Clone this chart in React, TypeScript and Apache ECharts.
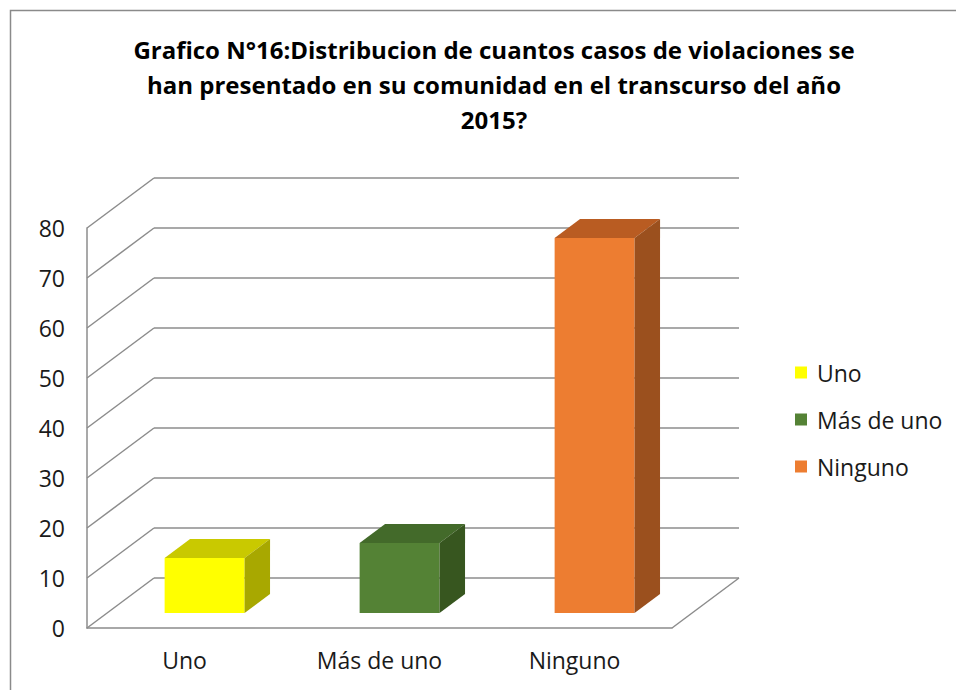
import React, { useEffect, useRef } from "react";
import * as echarts from "echarts";

const categories = ["Uno", "Más de uno", "Ninguno"];
const values = [11, 14, 75];
const yMax = 80;
const yInterval = 10;
const wallTicks = [0, 10, 20, 30, 40, 50, 60, 70, 80];
const titleLines = [
  "Grafico N°16:Distribucion de cuantos casos de violaciones se",
  "han presentado en su comunidad en el transcurso del año",
  "2015?",
];
const frontColors = ["#FFFF00", "#548235", "#ED7D31"];
const topColors = ["#C9C900", "#436A2A", "#B95C22"];
const sideColors = ["#A8A800", "#37561F", "#9B501E"];

const DX = 67;
const DY = -50;
const BAR_FRONT = 0.3;
const BAR_BACK = 0.68;
const BAR_RATIO = 0.41;
const GRID_COLOR = "#8c8c8c";
const FONT = "'Open Sans', sans-serif";

export default function App() {
  const ref = useRef<HTMLDivElement>(null);
  useEffect(() => {
    if (!ref.current) return;
    const chart = echarts.init(ref.current, null, { renderer: "svg" });
    const lineStyle = { stroke: GRID_COLOR, lineWidth: 1.5 };

    const wallSeries: any = {
      type: "custom",
      name: "walls",
      z: 1,
      silent: true,
      data: wallTicks.map((v) => [0, v]),
      renderItem: (params: any, api: any) => {
        const v = api.value(1);
        const bw = api.size([1, 0])[0];
        const pL = api.coord([0, v]);
        const pR = api.coord([categories.length - 1, v]);
        const x0 = pL[0] - bw / 2;
        const x1 = pR[0] + bw / 2;
        const y = pL[1];
        const children: any[] = [
          { type: "line", shape: { x1: x0, y1: y, x2: x0 + DX, y2: y + DY }, style: lineStyle },
          { type: "line", shape: { x1: x0 + DX, y1: y + DY, x2: x1 + DX, y2: y + DY }, style: lineStyle },
        ];
        if (v === 0) {
          children.push({ type: "line", shape: { x1: x1, y1: y, x2: x1 + DX, y2: y + DY }, style: lineStyle });
        }
        return { type: "group", children };
      },
    };

    const barSeries = categories.map((name, idx) => ({
      type: "custom",
      name,
      z: 3,
      itemStyle: { color: frontColors[idx] },
      data: [[idx, values[idx]]],
      renderItem: (params: any, api: any) => {
        const i = api.value(0);
        const v = api.value(1);
        const top = api.coord([i, v]);
        const base = api.coord([i, 0]);
        const bw = api.size([1, 0])[0] * BAR_RATIO;
        const fx = BAR_FRONT * DX;
        const fy = BAR_FRONT * DY;
        const ddx = (BAR_BACK - BAR_FRONT) * DX;
        const ddy = (BAR_BACK - BAR_FRONT) * DY;
        const l = top[0] - bw / 2 + fx;
        const r = top[0] + bw / 2 + fx;
        const t = top[1] + fy;
        const b = base[1] + fy;
        return {
          type: "group",
          children: [
            { type: "rect", shape: { x: l, y: t, width: r - l, height: b - t }, style: { fill: frontColors[idx] } },
            {
              type: "polygon",
              shape: { points: [[l, t], [l + ddx, t + ddy], [r + ddx, t + ddy], [r, t]] },
              style: { fill: topColors[idx] },
            },
            {
              type: "polygon",
              shape: { points: [[r, t], [r + ddx, t + ddy], [r + ddx, b + ddy], [r, b]] },
              style: { fill: sideColors[idx] },
            },
          ],
        };
      },
    }));

    chart.setOption({
      animation: false,
      backgroundColor: "#ffffff",
      title: {
        text: titleLines.join("\n"),
        left: 489,
        top: 27,
        textAlign: "center",
        textStyle: {
          fontFamily: FONT,
          fontWeight: "bold",
          fontSize: 24,
          lineHeight: 35,
          color: "#000000",
        },
      },
      legend: {
        orient: "vertical",
        left: 790,
        top: 356,
        itemWidth: 12,
        itemHeight: 12,
        itemGap: 24,
        icon: "rect",
        data: categories.map((name, idx) => ({ name, itemStyle: { color: frontColors[idx] } })),
        textStyle: { fontFamily: FONT, fontSize: 23, color: "#1a1a1a", padding: [0, 0, 0, 5] },
      },
      grid: { left: 87, right: 284, top: 228, bottom: 62 },
      xAxis: {
        type: "category",
        data: categories,
        axisLine: { show: true, lineStyle: { color: GRID_COLOR, width: 1.5 } },
        axisTick: { show: false },
        axisLabel: { fontFamily: FONT, fontSize: 23, color: "#1a1a1a", margin: 20 },
        splitLine: { show: false },
      },
      yAxis: {
        type: "value",
        min: 0,
        max: yMax,
        interval: yInterval,
        axisLine: { show: true, lineStyle: { color: GRID_COLOR, width: 1.5 } },
        axisTick: { show: false },
        axisLabel: { fontFamily: FONT, fontSize: 23, color: "#1a1a1a", margin: 22 },
        splitLine: { show: false },
      },
      graphic: [
        {
          type: "rect",
          shape: { x: 10.5, y: 10.5, width: 1000, height: 1000 },
          style: { fill: "none", stroke: "#8a8a8a", lineWidth: 1.5 },
          silent: true,
          z: -1,
        },
      ],
      series: [wallSeries, ...barSeries],
    });
    return () => chart.dispose();
  }, []);
  return (
    <div
      ref={ref}
      style={{ position: "fixed", left: 0, top: 0, width: 956, height: 690 }}
    />
  );
}
